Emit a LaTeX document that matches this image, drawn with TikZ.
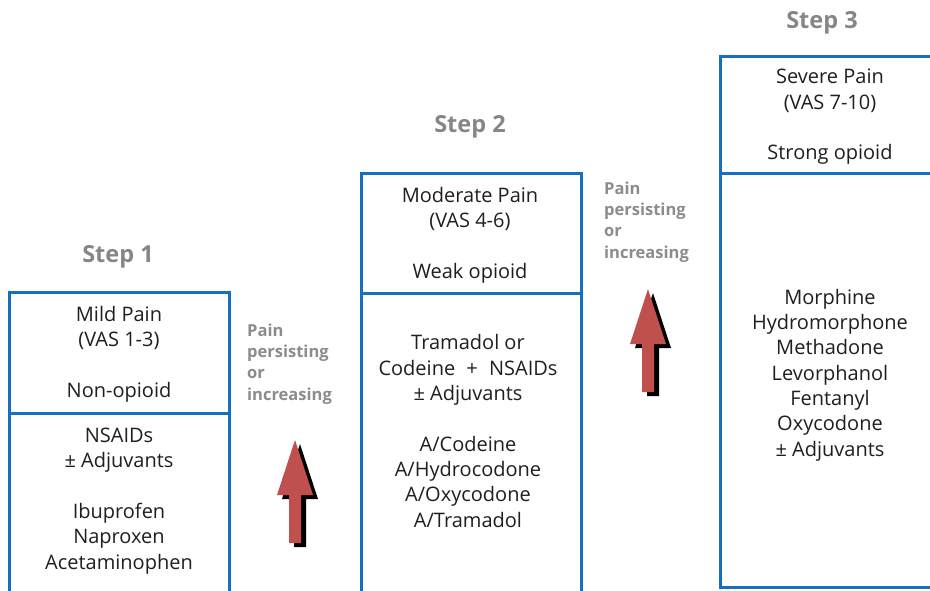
\documentclass[tikz,border=0pt]{standalone}
\usepackage{fontspec}
\setmainfont{Open Sans}
\begin{document}
\begin{tikzpicture}[x=1pt,y=-1pt,
  box/.style={draw=stepblue,line width=3pt},
  boxtext/.style={align=center,inner sep=0pt,font=\fontsize{20}{25.3}\selectfont,text=black!88},
  steplabel/.style={font=\bfseries\fontsize{23.5}{26}\selectfont,text=gray!95,inner sep=0pt},
  painlabel/.style={align=left,anchor=west,inner sep=0pt,font=\bfseries\fontsize{16.5}{21.3}\selectfont,text=gray!90},
  arrowbody/.style={fill=arrowred},
  arrowshadow/.style={fill=black}]
\definecolor{stepblue}{RGB}{22,112,192}
\definecolor{arrowred}{RGB}{192,80,77}
\useasboundingbox (0,0) rectangle (930,590);
\clip (0,0) rectangle (930,590);
\fill[white] (0,0) rectangle (930,590);
% boxes
\draw[box] (9,600) -- (9,292) -- (229,292) -- (229,600);
\draw[box] (9,413) -- (229,413);
\draw[box] (361,600) -- (361,173) -- (581,173) -- (581,600);
\draw[box] (361,293) -- (581,293);
\draw[box] (940,587) -- (720,587) -- (720,56) -- (940,56);
\draw[box] (720,173) -- (940,173);
% step labels
\node[steplabel] (s1) at (118,257) {Step 1};
\node[steplabel] (s2) at (470,127) {Step 2};
\node[steplabel] (s3) at (822,23) {Step 3};
% box texts
\node[boxtext] (t1a) at (119,354) {Mild Pain\\(VAS 1-3)\\[25.3pt]Non-opioid};
\node[boxtext] (t1b) at (119,501) {NSAIDs\\± Adjuvants\\[25.3pt]Ibuprofen\\Naproxen\\Acetaminophen};
\node[boxtext] (t2a) at (470,235) {Moderate Pain\\(VAS 4-6)\\[25.3pt]Weak opioid};
\node[boxtext] (t2b) at (468,431) {Tramadol or\\Codeine\hspace{6pt} + \hspace{6pt}NSAIDs\\± Adjuvants\\[25.3pt]A/Codeine\\A/Hydrocodone\\A/Oxycodone\\A/Tramadol};
\node[boxtext] (t3a) at (830,117) {Severe Pain\\(VAS 7-10)\\[25.3pt]Strong opioid};
\node[boxtext] (t3b) at (830,375) {Morphine\\Hydromorphone\\Methadone\\Levorphanol\\Fentanyl\\Oxycodone\\± Adjuvants};
% pain labels
\node[painlabel] (p1) at (247,364) {Pain\\persisting\\or\\increasing};
\node[painlabel] (p2) at (604,222) {Pain\\persisting\\or\\increasing};
% arrows
\foreach \ax/\ay in {295/440, 648/289}{
  \fill[arrowshadow] ([shift={(\ax+5,\ay+4)}]0,0) -- ++(18,55) -- ++(-12,0) -- ++(0,48) -- ++(-12,0) -- ++(0,-48) -- ++(-12,0) -- cycle;
  \fill[arrowbody] ([shift={(\ax,\ay)}]0,0) -- ++(18,55) -- ++(-12,0) -- ++(0,48) -- ++(-12,0) -- ++(0,-48) -- ++(-12,0) -- cycle;
}
\end{tikzpicture}
\end{document}
